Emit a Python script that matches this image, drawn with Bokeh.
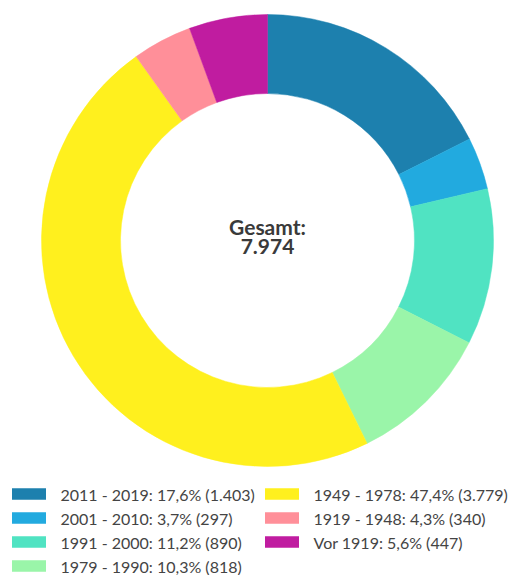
import math
from bokeh.plotting import figure
from bokeh.models import Range1d, ColumnDataSource
from bokeh.embed import file_html
from bokeh.resources import INLINE
from bokeh.core.properties import value

labels = ["2011 - 2019", "2001 - 2010", "1991 - 2000", "1979 - 1990",
          "1949 - 1978", "1919 - 1948", "Vor 1919"]
counts = [1403, 297, 890, 818, 3779, 340, 447]
colors = ["#1d80ae", "#22aadf", "#50e3c2", "#9af5a9", "#fff01e", "#ff8f99", "#c01ca0"]
center_title = "Gesamt:"

W, H = 523, 575
p = figure(width=W, height=H, output_backend="svg", toolbar_location=None,
           x_range=Range1d(0, W), y_range=Range1d(0, H), min_border=0)
p.axis.visible = False
p.grid.visible = False
p.outline_line_color = None
p.background_fill_color = "white"
p.border_fill_color = "white"

total = sum(counts)
cum = 0
starts, ends = [], []
for c in counts:
    a0 = cum / total * 2 * math.pi
    cum += c
    a1 = cum / total * 2 * math.pi
    starts.append(math.pi / 2 - a1)
    ends.append(math.pi / 2 - a0)

cx, cy = 267, H - 240
src = ColumnDataSource(dict(s=starts, e=ends, c=colors))
p.annular_wedge(x=cx, y=cy, inner_radius=147, outer_radius=226, start_angle="s", end_angle="e",
                color="c", line_color="c", line_width=0.5, source=src)

def fmt_int(n):
    return f"{n:,}".replace(",", ".")

total_str = fmt_int(total)
p.text(x=[cx, cx], y=[H - 213, H - 238], text=[center_title, total_str],
       text_align="center", text_baseline="top", text_font=value("Lato"),
       text_font_size="21px", text_font_style="bold", text_color="#3a3a3a")

# legend
leg_text = []
for lab, c in zip(labels, counts):
    pct = f"{c / total * 100:.1f}".replace(".", ",")
    leg_text.append(f"{lab}: {pct}% ({fmt_int(c)})")

row_h = 24.0
sx, sy, tx = [], [], []
for i in range(len(labels)):
    col = 0 if i < 4 else 1
    row = i if i < 4 else i - 4
    sx.append(28.5 if col == 0 else 281.5)
    tx.append(60 if col == 0 else 313)
    sy.append(H - (493.5 + row * row_h))
p.rect(x=sx, y=sy, width=34, height=11.5, color=colors, line_color=None)
p.text(x=tx, y=sy, text=leg_text, text_baseline="middle", text_font=value("Lato"),
       text_font_size="16px", text_color="#444444")

open("out.html", "w").write(file_html(p, INLINE))
